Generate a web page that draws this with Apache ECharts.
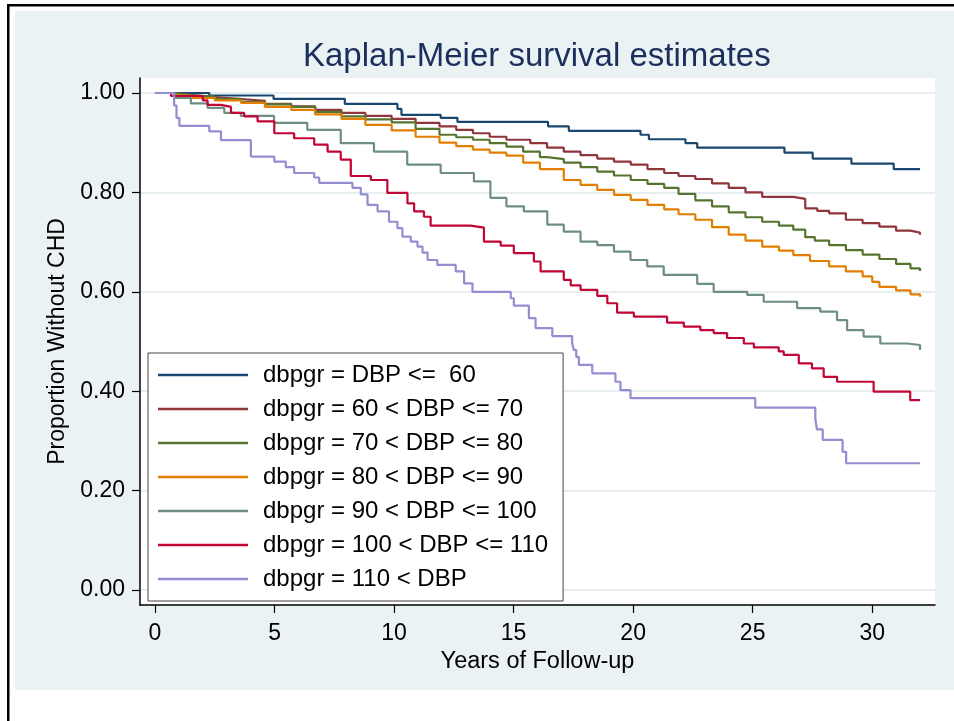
<!DOCTYPE html>
<html>
<head>
<meta charset="utf-8">
<script src="https://cdn.jsdelivr.net/npm/echarts@6/dist/echarts.min.js"></script>
<style>
  html, body { margin: 0; padding: 0; background: #ffffff; }
  #chart { width: 954px; height: 721px; }
</style>
</head>
<body>
<div id="chart"></div>
<script>
// Kaplan-Meier survival by diastolic blood pressure group.
// Each group: step times (years) and survival just after each step.
const groupNames = [
  'dbpgr = DBP <=  60',
  'dbpgr = 60 < DBP <= 70',
  'dbpgr = 70 < DBP <= 80',
  'dbpgr = 80 < DBP <= 90',
  'dbpgr = 90 < DBP <= 100',
  'dbpgr = 100 < DBP <= 110',
  'dbpgr = 110 < DBP'
];

const timeLe60 = [0, 2.27, 4.96, 7.94, 10.14, 10.31, 11.95, 12.65, 16.44, 17.31, 20.31, 20.66, 22.19, 22.68, 26.33, 27.51, 29.13, 30.9, 32];
const survLe60 = [1, 0.995, 0.988, 0.978, 0.968, 0.956, 0.950, 0.942, 0.933, 0.924, 0.916, 0.907, 0.899, 0.890, 0.880, 0.868, 0.858, 0.847, 0.847];

const time60to70 = [0, 0.8, 1.5, 2.5, 3.6, 4.6, 5.7, 6.7, 7.8, 8.8, 9.9, 10.9, 11.9, 12.6, 13.3, 14.0, 14.7, 15.7, 16.4, 17.1, 17.8, 18.5, 19.2, 19.9, 20.6, 21.3, 21.9, 22.6, 23.3, 24.0, 24.7, 25.4, 26.7, 27.2, 27.7, 28.2, 28.9, 29.6, 30.3, 31.0, 31.6, 32];
const surv60to70 = [1, 0.996, 0.992, 0.988, 0.984, 0.978, 0.973, 0.966, 0.960, 0.954, 0.948, 0.940, 0.933, 0.926, 0.919, 0.912, 0.906, 0.899, 0.890, 0.882, 0.875, 0.868, 0.862, 0.856, 0.847, 0.839, 0.833, 0.827, 0.818, 0.809, 0.800, 0.791, 0.787, 0.768, 0.763, 0.758, 0.745, 0.738, 0.731, 0.723, 0.719, 0.715];

const time70to80 = [0, 0.8, 1.5, 2.5, 3.6, 4.6, 5.7, 6.7, 7.8, 8.8, 9.9, 10.9, 11.9, 12.6, 13.3, 14.0, 14.7, 15.4, 16.1, 16.4, 17.1, 17.8, 18.5, 19.2, 19.9, 20.6, 21.3, 21.9, 22.6, 23.3, 24.0, 24.7, 25.4, 26.1, 26.7, 27.2, 27.6, 28.2, 28.9, 29.6, 30.3, 31.0, 31.6, 32];
const surv70to80 = [1, 0.996, 0.993, 0.988, 0.982, 0.977, 0.972, 0.962, 0.953, 0.947, 0.941, 0.928, 0.916, 0.911, 0.906, 0.899, 0.892, 0.882, 0.871, 0.867, 0.860, 0.851, 0.842, 0.834, 0.825, 0.817, 0.809, 0.797, 0.784, 0.772, 0.760, 0.750, 0.741, 0.733, 0.725, 0.710, 0.703, 0.694, 0.684, 0.675, 0.666, 0.656, 0.647, 0.642];

const time80to90 = [0, 0.8, 1.5, 2.5, 3.6, 4.6, 5.7, 6.7, 7.8, 8.8, 9.9, 10.9, 11.9, 12.6, 13.3, 14.0, 14.7, 15.4, 16.1, 17.1, 17.8, 18.5, 19.2, 19.9, 20.6, 21.3, 21.9, 22.6, 23.3, 24.0, 24.7, 25.4, 26.1, 26.7, 27.4, 28.2, 28.9, 29.6, 30.0, 30.3, 31.0, 31.6, 32];
const surv80to90 = [1, 0.995, 0.990, 0.985, 0.980, 0.972, 0.966, 0.957, 0.948, 0.936, 0.925, 0.912, 0.900, 0.893, 0.886, 0.880, 0.874, 0.860, 0.847, 0.825, 0.815, 0.805, 0.795, 0.785, 0.775, 0.766, 0.756, 0.745, 0.730, 0.715, 0.703, 0.691, 0.683, 0.674, 0.662, 0.651, 0.641, 0.631, 0.620, 0.610, 0.603, 0.595, 0.590];

const time90to100 = [0, 0.81, 1.5, 2.2, 2.9, 3.59, 4.98, 6.37, 7.77, 9.16, 10.55, 11.95, 13.34, 14.03, 14.7, 15.43, 16.41, 17.1, 17.8, 18.5, 19.2, 19.89, 20.59, 21.28, 22.68, 23.37, 24.77, 25.46, 26.86, 27.83, 28.53, 28.95, 29.64, 30.34, 31.46, 32];
const surv90to100 = [1, 0.990, 0.979, 0.970, 0.960, 0.954, 0.940, 0.926, 0.899, 0.882, 0.856, 0.839, 0.822, 0.789, 0.772, 0.762, 0.735, 0.721, 0.701, 0.694, 0.681, 0.664, 0.651, 0.634, 0.616, 0.600, 0.594, 0.580, 0.567, 0.560, 0.543, 0.523, 0.510, 0.496, 0.493, 0.483];

const time100to110 = [0, 0.67, 2.0, 2.2, 2.76, 3.18, 3.73, 4.29, 4.99, 5.82, 6.66, 7.22, 7.77, 8.19, 9.03, 9.72, 10.56, 10.84, 11.25, 11.53, 13.2, 13.76, 14.46, 15.01, 15.85, 16.13, 17.1, 17.39, 17.8, 18.5, 18.92, 19.33, 20.03, 21.42, 22.12, 22.81, 23.37, 23.93, 24.63, 25.05, 26.09, 26.3, 26.93, 27.48, 27.97, 28.53, 30.06, 31.59, 32];
const surv100to110 = [1, 0.994, 0.985, 0.976, 0.972, 0.960, 0.953, 0.943, 0.919, 0.909, 0.896, 0.882, 0.866, 0.833, 0.825, 0.799, 0.778, 0.762, 0.751, 0.733, 0.729, 0.701, 0.693, 0.678, 0.661, 0.641, 0.624, 0.613, 0.604, 0.592, 0.577, 0.558, 0.550, 0.538, 0.530, 0.523, 0.517, 0.507, 0.496, 0.488, 0.480, 0.473, 0.456, 0.446, 0.429, 0.419, 0.399, 0.382, 0.382];

const timeOver110 = [0, 0.8, 0.9, 1.02, 2.27, 2.76, 4.01, 4.99, 5.47, 5.82, 6.66, 6.87, 8.26, 8.61, 8.89, 9.31, 9.79, 10.14, 10.35, 10.7, 10.98, 11.19, 11.4, 11.81, 12.58, 12.93, 13.28, 14.88, 15.01, 15.64, 15.92, 16.62, 17.45, 17.52, 17.62, 17.73, 18.29, 19.26, 19.47, 19.89, 25.11, 27.62, 27.69, 27.93, 28.76, 28.91, 32];
const survOver110 = [1, 0.975, 0.950, 0.934, 0.923, 0.905, 0.872, 0.862, 0.851, 0.839, 0.830, 0.819, 0.809, 0.796, 0.775, 0.762, 0.741, 0.728, 0.711, 0.701, 0.691, 0.679, 0.664, 0.654, 0.641, 0.617, 0.600, 0.587, 0.572, 0.547, 0.527, 0.511, 0.496, 0.483, 0.469, 0.453, 0.436, 0.419, 0.402, 0.386, 0.367, 0.345, 0.323, 0.302, 0.278, 0.255, 0.255];

const xTicks = [0, 5, 10, 15, 20, 25, 30];
const yTicks = [0, 0.2, 0.4, 0.6, 0.8, 1.0];

const groupTimes = [timeLe60, time60to70, time70to80, time80to90, time90to100, time100to110, timeOver110];
const groupSurv = [survLe60, surv60to70, surv70to80, surv80to90, surv90to100, surv100to110, survOver110];
const groupColors = ['#1A476F', '#90353B', '#55752F', '#E37E00', '#6E8E84', '#C10534', '#938DD2'];

const FONT = '"Liberation Sans", Arial, Helvetica, sans-serif';

const series = groupNames.map(function (name, g) {
  return {
    name: name,
    type: 'line',
    step: 'end',
    symbol: 'none',
    silent: true,
    data: groupTimes[g].map(function (t, i) { return [t, groupSurv[g][i]]; }),
    lineStyle: { width: 2.2, color: groupColors[g] },
    itemStyle: { color: groupColors[g] }
  };
});

const chart = echarts.init(document.getElementById('chart'), null, { renderer: 'canvas' });

chart.setOption({
  animation: false,
  backgroundColor: '#ffffff',
  textStyle: { fontFamily: FONT },
  graphic: [
    { type: 'rect', z: -10, shape: { x: 15, y: 11, width: 939, height: 679 }, style: { fill: '#EAF2F3' } },
    { type: 'rect', z: 10, shape: { x: 7, y: 4, width: 947, height: 2.5 }, style: { fill: '#000000' } },
    { type: 'rect', z: 10, shape: { x: 7, y: 4, width: 2.5, height: 717 }, style: { fill: '#000000' } }
  ],
  title: {
    text: 'Kaplan-Meier survival estimates',
    left: 303,
    top: 40,
    padding: 0,
    textStyle: { fontFamily: FONT, fontSize: 33, fontWeight: 'normal', color: '#1C2E5C' }
  },
  grid: {
    left: 140, right: 19, top: 78, bottom: 116,
    show: true, backgroundColor: '#ffffff', borderWidth: 0
  },
  xAxis: {
    type: 'value',
    min: -0.627, max: 32.627,
    name: 'Years of Follow-up',
    nameLocation: 'middle',
    nameGap: 42,
    nameTextStyle: { fontFamily: FONT, fontSize: 23.5, color: '#000000' },
    axisLine: { show: true, onZero: false, lineStyle: { color: '#000000', width: 1.5 } },
    axisTick: { show: true, length: 8, customValues: xTicks, lineStyle: { color: '#000000', width: 1.2 } },
    axisLabel: { customValues: xTicks, fontFamily: FONT, fontSize: 23, color: '#000000', margin: 17 },
    splitLine: { show: false }
  },
  yAxis: {
    type: 'value',
    min: -0.0302, max: 1.0302,
    name: 'Proportion Without CHD',
    nameLocation: 'middle',
    nameGap: 64,
    nameTextStyle: { fontFamily: FONT, fontSize: 23, color: '#000000' },
    axisLine: { show: true, onZero: false, lineStyle: { color: '#000000', width: 1.5 } },
    axisTick: { show: true, length: 8, customValues: yTicks, lineStyle: { color: '#000000', width: 1.2 } },
    axisLabel: {
      customValues: yTicks, fontFamily: FONT, fontSize: 23, color: '#000000', margin: 15,
      formatter: function (v) { return v.toFixed(2); }
    },
    splitLine: { show: true, lineStyle: { color: '#E6EEF0', width: 2 } }
  },
  legend: {
    data: groupNames,
    orient: 'vertical',
    left: 148,
    top: 353,
    padding: [10, 15, 10, 10],
    icon: 'rect',
    itemWidth: 90,
    itemHeight: 2.5,
    itemGap: 10,
    selectedMode: false,
    backgroundColor: '#ffffff',
    borderColor: '#444444',
    borderWidth: 1,
    borderRadius: 0,
    textStyle: { fontFamily: FONT, fontSize: 24, color: '#000000', padding: [0, 0, 0, 10] }
  },
  series: series
});
</script>
</body>
</html>
